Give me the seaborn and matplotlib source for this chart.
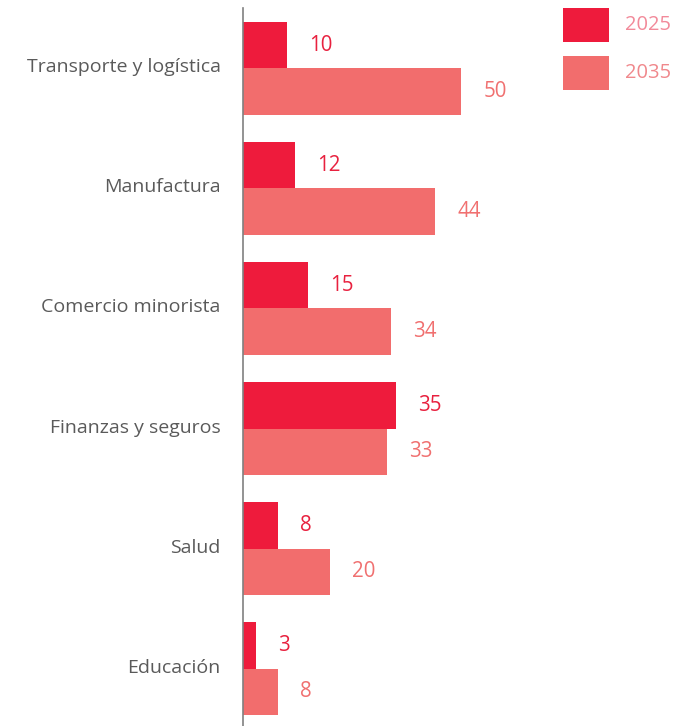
import matplotlib
matplotlib.use("Agg")
import matplotlib.pyplot as plt
from matplotlib.patches import Rectangle
from matplotlib.transforms import ScaledTranslation
import seaborn as sns
import pandas as pd

# Sector data
sectors = ["Transporte y logística", "Manufactura", "Comercio minorista",
           "Finanzas y seguros", "Salud", "Educación"]
years = ["2025", "2035"]
values_2025 = [10, 12, 15, 35, 8, 3]
values_2035 = [50, 44, 34, 33, 20, 8]

bar_colors = ["#EE1B3C", "#F26D6D"]
label_colors = ["#E8213F", "#F07070"]
legend_text_colors = ["#F28A9A", "#F0888C"]

df = pd.DataFrame({
    "sector": sectors * 2,
    "year": [years[0]] * len(sectors) + [years[1]] * len(sectors),
    "value": values_2025 + values_2035,
})

sns.set_theme(style="white")
plt.rcParams["font.family"] = ["Open Sans", "DejaVu Sans"]

W, H = 692, 726
fig = plt.figure(figsize=(W / 100, H / 100), dpi=100)
ax = fig.add_axes([243 / W, 0, (W - 243) / W, 1 - 8 / H])

sns.barplot(data=df, y="sector", x="value", hue="year", order=sectors,
            hue_order=years, palette=bar_colors, orient="h", width=0.775,
            gap=0, saturation=1, linewidth=0, ax=ax, legend=False,
            errorbar=None)

for cont, col in zip(ax.containers, label_colors):
    ax.bar_label(cont, padding=16, color=col, fontsize=14.8)

ax.set_xlim(0, (W - 243) / 4.36)
ax.set_ylim(5.479, -0.504)
ax.set_xlabel("")
ax.set_ylabel("")
ax.set_xticks([])
ax.tick_params(axis="y", length=0, pad=16, labelsize=14, labelcolor="#5A5A5A")
lift = ScaledTranslation(0, 3 / 100, fig.dpi_scale_trans)
for lbl in ax.get_yticklabels():
    lbl.set_transform(lbl.get_transform() + lift)
for s in ["top", "right", "bottom"]:
    ax.spines[s].set_visible(False)
ax.spines["left"].set_color("#808080")
ax.spines["left"].set_linewidth(1.2)

# Legend: colour squares with year labels
for i, (yr, col, tcol) in enumerate(zip(years, bar_colors, legend_text_colors)):
    top = 8 + i * 48
    fig.add_artist(Rectangle((563 / W, 1 - (top + 34) / H), 46 / W, 34 / H,
                             transform=fig.transFigure, color=col, lw=0))
    fig.text(625 / W, 1 - (top + 17) / H, yr, color=tcol, fontsize=14.5,
             va="center", ha="left")

fig.savefig("out.png", dpi=100)
